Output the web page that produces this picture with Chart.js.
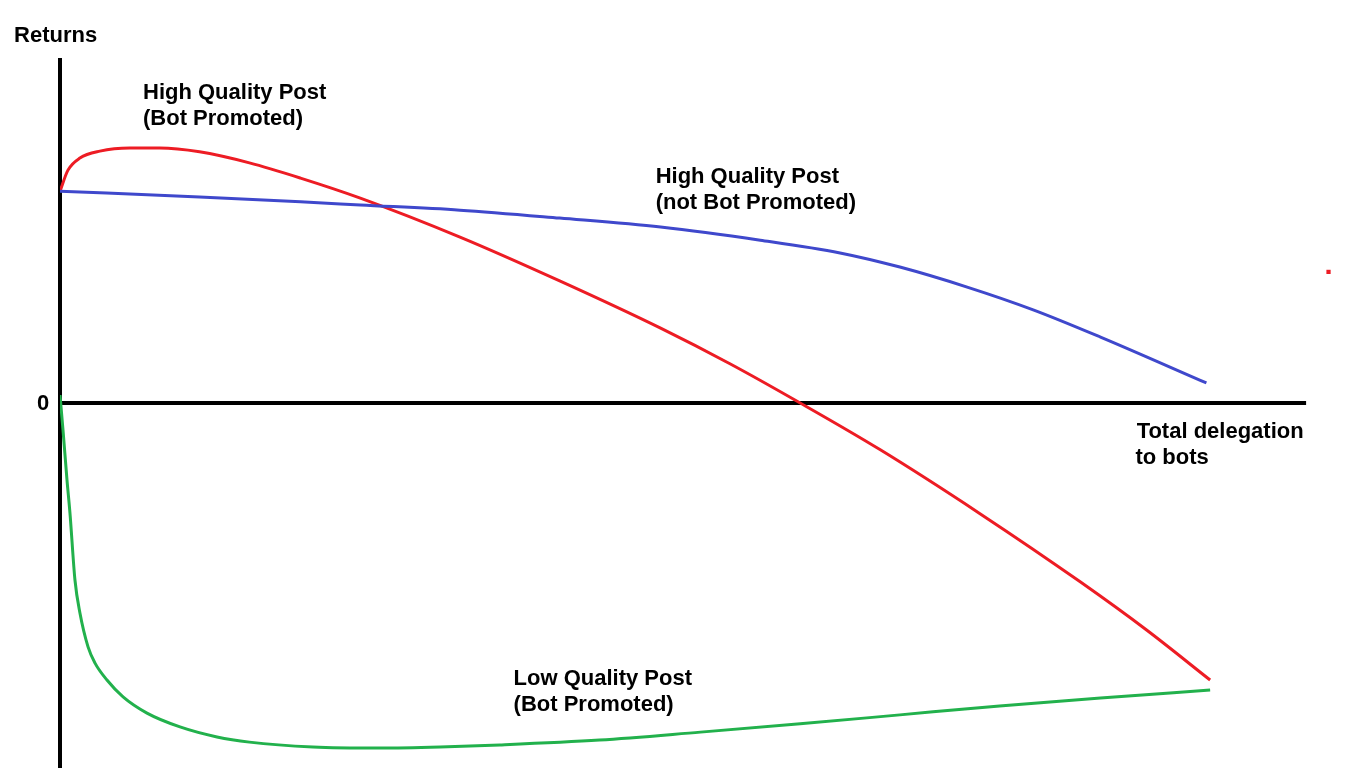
<!DOCTYPE html>
<html>
<head>
<meta charset="utf-8">
<script src="https://cdn.jsdelivr.net/npm/chart.js@4"></script>
<style>
  html, body { margin: 0; padding: 0; background: #fff; overflow: hidden; }
  canvas { display: block; }
</style>
</head>
<body>
<canvas id="chart" width="1366" height="768"></canvas>
<script>
// x = total delegation to bots (0..100), y = returns (0 at the axis)
var hqBotX = [0, 0.64, 1.6, 3.2, 5.6, 8.0, 11.2, 15.2, 19.3, 24.1, 32.1, 40.1, 48.2, 53.8, 59.4, 65.8, 73.8, 81.9, 87.2, 92.3];
var hqBotY = [61.4, 67.5, 71.0, 73.0, 73.9, 73.9, 72.8, 69.6, 65.2, 59.4, 48.1, 35.4, 21.7, 11.3, 0, -13.5, -32.0, -51.9, -65.8, -80.3];

var hqNoBotX = [0, 11.2, 19.3, 24.1, 32.1, 40.1, 48.2, 56.2, 62.6, 67.4, 72.8, 78.1, 83.5, 92.0];
var hqNoBotY = [61.4, 59.7, 58.3, 57.4, 55.9, 53.6, 51.0, 47.2, 43.5, 39.4, 33.6, 27.0, 19.1, 5.8];

var lqBotX = [0, 0.24, 0.56, 0.8, 1.2, 1.6, 2.25, 2.81, 3.77, 5.06, 6.98, 9.63, 12.6, 15.2, 20.3, 25.7, 30.5, 35.3, 43.3, 51.4, 59.4, 67.4, 75.4, 83.5, 92.3];
var lqBotY = [2.3, -7.8, -22.3, -31.9, -51.3, -60.9, -70.7, -75.4, -80.3, -85.2, -89.9, -93.9, -96.8, -98.3, -99.7, -100, -99.7, -99.1, -97.7, -95.4, -93.0, -90.4, -87.8, -85.5, -83.2];

var strayX = [101.8];
var strayY = [38];

var labelText = ['Returns', '0', 'High Quality Post', '(Bot Promoted)', 'High Quality Post', '(not Bot Promoted)',
                 'Low Quality Post', '(Bot Promoted)', 'Total delegation', 'to bots'];
var labelX = [-3.69, -1.36, 6.66, 6.66, 47.8, 47.8, 36.4, 36.4, 86.4, 86.3];
var labelY = [106.4, -0.4, 89.8, 82.3, 65.5, 58.0, -80.0, -87.6, -8.4, -16.0];
var labelAlign = ['left', 'center', 'left', 'left', 'left', 'left', 'left', 'left', 'left', 'left'];

function pts(xs, ys) {
  return xs.map(function (x, i) { return { x: x, y: ys[i] }; });
}

var axesAndLabels = {
  id: 'axesAndLabels',
  beforeDatasetsDraw: function (chart) {
    var ctx = chart.ctx;
    var xs = chart.scales.x, ys = chart.scales.y;
    var x0 = xs.getPixelForValue(0), y0 = ys.getPixelForValue(0);
    ctx.save();
    ctx.strokeStyle = '#000';
    ctx.lineWidth = 4;
    ctx.beginPath();
    ctx.moveTo(x0, chart.chartArea.top);
    ctx.lineTo(x0, chart.chartArea.bottom);
    ctx.moveTo(x0, y0);
    ctx.lineTo(xs.getPixelForValue(100), y0);
    ctx.stroke();
    ctx.restore();
  },
  afterDraw: function (chart) {
    var ctx = chart.ctx;
    var xs = chart.scales.x, ys = chart.scales.y;
    ctx.save();
    ctx.fillStyle = '#000';
    ctx.font = 'bold 22px "Liberation Sans", Arial, sans-serif';
    ctx.textBaseline = 'middle';
    for (var i = 0; i < labelText.length; i++) {
      ctx.textAlign = labelAlign[i];
      ctx.fillText(labelText[i], xs.getPixelForValue(labelX[i]), ys.getPixelForValue(labelY[i]));
    }
    ctx.restore();
  }
};

var lineStyle = { borderWidth: 3, pointRadius: 0, fill: false, cubicInterpolationMode: 'monotone', showLine: true };

new Chart(document.getElementById('chart'), {
  type: 'scatter',
  data: {
    datasets: [
      Object.assign({ label: 'High Quality Post (not Bot Promoted)', data: pts(hqNoBotX, hqNoBotY), borderColor: '#3f48cc' }, lineStyle),
      Object.assign({ label: 'Low Quality Post (Bot Promoted)', data: pts(lqBotX, lqBotY), borderColor: '#22b14c' }, lineStyle),
      Object.assign({ label: 'High Quality Post (Bot Promoted)', data: pts(hqBotX, hqBotY), borderColor: '#ed1c24' }, lineStyle),
      { label: 'stray', data: pts(strayX, strayY), pointStyle: 'rect', pointRadius: 3, backgroundColor: '#ed1c24', borderWidth: 0 }
    ]
  },
  options: {
    responsive: false,
    animation: false,
    layout: { autoPadding: false, padding: { left: 60, right: 30, top: 58, bottom: 0 } },
    plugins: { legend: { display: false }, tooltip: { enabled: false } },
    scales: {
      x: { type: 'linear', min: 0, max: 102.4, display: false },
      y: { type: 'linear', min: -105.8, max: 100, display: false }
    }
  },
  plugins: [axesAndLabels]
});
</script>
</body>
</html>
